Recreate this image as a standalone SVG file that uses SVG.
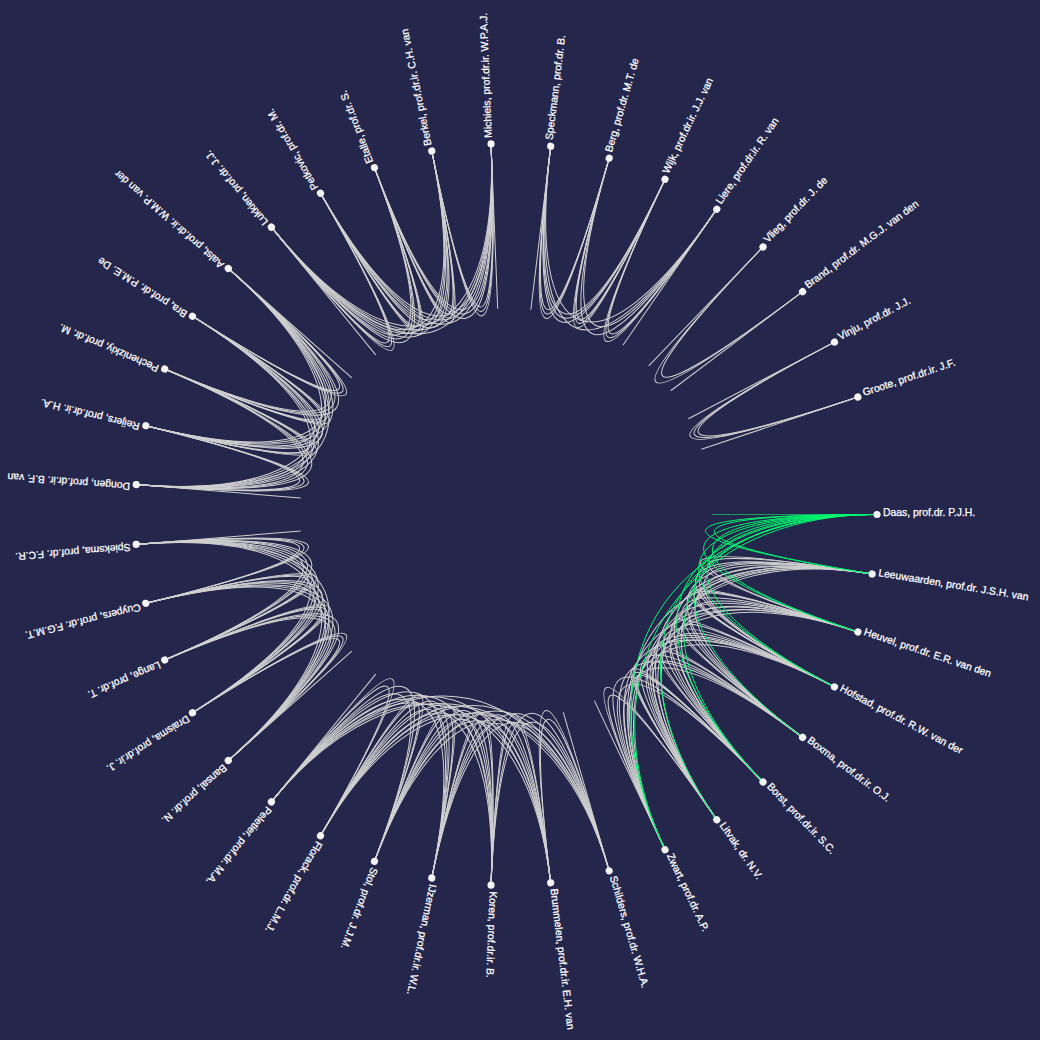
<svg xmlns="http://www.w3.org/2000/svg" xmlns:xlink="http://www.w3.org/1999/xlink" width="1040" height="1040" viewBox="0 0 1040 1040">
<style>
.e{fill:none;stroke:#d0d0d0;stroke-width:1}
.hl{fill:none;stroke:#00f56e;stroke-width:1}
.hr{fill:none;stroke:#1b9c5e;stroke-width:1.2}
.node circle{fill:#f4f4f4}
.node text{fill:#ffffff;stroke:#ffffff;stroke-width:0.25;font-family:"Liberation Sans",Arial,sans-serif;font-size:10.4px}
</style>
<defs>
<path id="rad" d="M371,0H206"/>
<path id="k1a" d="M371,0C144,0 142.14,23.10 366.20,59.51"/>
<path id="k1b" d="M371,0C150,0 148.06,24.06 366.20,59.51"/>
<path id="k1c" d="M371,0C156,0 153.98,25.02 366.20,59.51"/>
<path id="k2a" d="M371,0C147,0 139.44,46.55 351.91,117.48"/>
<path id="k2b" d="M371,0C153,0 145.13,48.45 351.91,117.48"/>
<path id="k2c" d="M371,0C159,0 150.82,50.35 351.91,117.48"/>
<path id="k3a" d="M371,0C150,0 132.82,69.71 328.50,172.41"/>
<path id="k3b" d="M371,0C156,0 138.13,72.50 328.50,172.41"/>
<path id="k3c" d="M371,0C162,0 143.44,75.28 328.50,172.41"/>
<path id="k4a" d="M371,0C153,0 122.31,91.91 296.59,222.87"/>
<path id="k4b" d="M371,0C159,0 127.11,95.52 296.59,222.87"/>
<path id="k4c" d="M371,0C165,0 131.91,99.12 296.59,222.87"/>
<path id="k5a" d="M371,0C156,0 108.07,112.51 257.00,267.57"/>
<path id="k5b" d="M371,0C162,0 112.22,116.83 257.00,267.57"/>
<path id="k5c" d="M371,0C168,0 116.38,121.16 257.00,267.57"/>
<path id="k6a" d="M371,0C159,0 90.32,130.85 210.75,305.33"/>
<path id="k6b" d="M371,0C165,0 93.73,135.79 210.75,305.33"/>
<path id="k6c" d="M371,0C171,0 97.14,140.73 210.75,305.33"/>
<path id="k7a" d="M371,0C162,0 69.45,146.36 159.05,335.18"/>
<path id="k7b" d="M371,0C168,0 72.02,151.78 159.05,335.18"/>
<path id="k7c" d="M371,0C174,0 74.59,157.20 159.05,335.18"/>
</defs>
<rect width="1040" height="1040" fill="#25264b"/>
<g transform="translate(506,514.5)">
<g id="links" class="e">
<use href="#rad" transform="rotate(64.62)"/>
<use href="#rad" transform="rotate(73.85)"/>
<use href="#rad" transform="rotate(129.23)"/>
<use href="#rad" transform="rotate(138.46)"/>
<use href="#rad" transform="rotate(175.38)"/>
<use href="#rad" transform="rotate(184.62)"/>
<use href="#rad" transform="rotate(221.54)"/>
<use href="#rad" transform="rotate(230.77)"/>
<use href="#rad" transform="rotate(267.69)"/>
<use href="#rad" transform="rotate(276.92)"/>
<use href="#rad" transform="rotate(304.62)"/>
<use href="#rad" transform="rotate(313.85)"/>
<use href="#rad" transform="rotate(323.08)"/>
<use href="#rad" transform="rotate(332.31)"/>
<use href="#rad" transform="rotate(341.54)"/>
<g transform="rotate(9.23)"><use href="#k1a"/><use href="#k1c"/><use href="#k2a"/><use href="#k2c"/><use href="#k2b"/><use href="#k3a"/><use href="#k3c"/><use href="#k4a"/><use href="#k4c"/><use href="#k5a"/><use href="#k5c"/><use href="#k6a"/><use href="#k6c"/></g>
<g transform="rotate(18.46)"><use href="#k1a"/><use href="#k1c"/><use href="#k1b"/><use href="#k2a"/><use href="#k2c"/><use href="#k3a"/><use href="#k3c"/><use href="#k4a"/><use href="#k4c"/><use href="#k5a"/><use href="#k5c"/></g>
<g transform="rotate(27.69)"><use href="#k1a"/><use href="#k1c"/><use href="#k2a"/><use href="#k2c"/><use href="#k3a"/><use href="#k3c"/><use href="#k3b"/><use href="#k4a"/><use href="#k4c"/></g>
<g transform="rotate(36.92)"><use href="#k1a"/><use href="#k1c"/><use href="#k2a"/><use href="#k2c"/><use href="#k3a"/><use href="#k3c"/></g>
<g transform="rotate(46.15)"><use href="#k1a"/><use href="#k1c"/><use href="#k1b"/><use href="#k2a"/><use href="#k2c"/></g>
<g transform="rotate(55.38)"><use href="#k1a"/><use href="#k1c"/></g>
<g transform="rotate(73.85)"><use href="#k1a"/><use href="#k1c"/><use href="#k2a"/><use href="#k2c"/><use href="#k3a"/><use href="#k3c"/><use href="#k4a"/><use href="#k4c"/><use href="#k5a"/><use href="#k5c"/><use href="#k6a"/><use href="#k6c"/></g>
<g transform="rotate(83.08)"><use href="#k1a"/><use href="#k1c"/><use href="#k2a"/><use href="#k2c"/><use href="#k3a"/><use href="#k3c"/><use href="#k4a"/><use href="#k4c"/><use href="#k5a"/><use href="#k5c"/></g>
<g transform="rotate(92.31)"><use href="#k1a"/><use href="#k1c"/><use href="#k2a"/><use href="#k2c"/><use href="#k3a"/><use href="#k3c"/><use href="#k4a"/><use href="#k4c"/></g>
<g transform="rotate(101.54)"><use href="#k1a"/><use href="#k1c"/><use href="#k2a"/><use href="#k2c"/><use href="#k3a"/><use href="#k3c"/></g>
<g transform="rotate(110.77)"><use href="#k1a"/><use href="#k1c"/><use href="#k2a"/><use href="#k2c"/></g>
<g transform="rotate(120)"><use href="#k1a"/><use href="#k1c"/></g>
<g transform="rotate(138.46)"><use href="#k1a"/><use href="#k1b"/><use href="#k1c"/><use href="#k2a"/><use href="#k2b"/><use href="#k2c"/><use href="#k3a"/><use href="#k3b"/><use href="#k3c"/><use href="#k4a"/><use href="#k4b"/><use href="#k4c"/></g>
<g transform="rotate(147.69)"><use href="#k1a"/><use href="#k1b"/><use href="#k1c"/><use href="#k2a"/><use href="#k2b"/><use href="#k2c"/><use href="#k3a"/><use href="#k3b"/><use href="#k3c"/></g>
<g transform="rotate(156.92)"><use href="#k1a"/><use href="#k1b"/><use href="#k1c"/><use href="#k2a"/><use href="#k2b"/><use href="#k2c"/></g>
<g transform="rotate(166.15)"><use href="#k1a"/><use href="#k1b"/><use href="#k1c"/></g>
<g transform="rotate(184.62)"><use href="#k1a"/><use href="#k1b"/><use href="#k1c"/><use href="#k2a"/><use href="#k2b"/><use href="#k2c"/><use href="#k3a"/><use href="#k3b"/><use href="#k3c"/><use href="#k4a"/><use href="#k4b"/><use href="#k4c"/></g>
<g transform="rotate(193.85)"><use href="#k1a"/><use href="#k1b"/><use href="#k1c"/><use href="#k2a"/><use href="#k2b"/><use href="#k2c"/><use href="#k3a"/><use href="#k3b"/><use href="#k3c"/></g>
<g transform="rotate(203.08)"><use href="#k1a"/><use href="#k1b"/><use href="#k1c"/><use href="#k2a"/><use href="#k2b"/><use href="#k2c"/></g>
<g transform="rotate(212.31)"><use href="#k1a"/><use href="#k1b"/><use href="#k1c"/></g>
<g transform="rotate(230.77)"><use href="#k1a"/><use href="#k1b"/><use href="#k1c"/><use href="#k2a"/><use href="#k2b"/><use href="#k2c"/><use href="#k3a"/><use href="#k3b"/><use href="#k3c"/><use href="#k4a"/><use href="#k4b"/><use href="#k4c"/></g>
<g transform="rotate(240)"><use href="#k1a"/><use href="#k1b"/><use href="#k1c"/><use href="#k2a"/><use href="#k2b"/><use href="#k2c"/><use href="#k3a"/><use href="#k3b"/><use href="#k3c"/></g>
<g transform="rotate(249.23)"><use href="#k1a"/><use href="#k1b"/><use href="#k1c"/><use href="#k2a"/><use href="#k2b"/><use href="#k2c"/></g>
<g transform="rotate(258.46)"><use href="#k1a"/><use href="#k1b"/><use href="#k1c"/></g>
<g transform="rotate(276.92)"><use href="#k1a"/><use href="#k1b"/><use href="#k1c"/><use href="#k2a"/><use href="#k2b"/><use href="#k2c"/><use href="#k3a"/><use href="#k3c"/></g>
<g transform="rotate(286.15)"><use href="#k1a"/><use href="#k1b"/><use href="#k1c"/><use href="#k2a"/><use href="#k2c"/></g>
<g transform="rotate(295.38)"><use href="#k1a"/><use href="#k1b"/><use href="#k1c"/></g>
<g transform="rotate(313.85)"><use href="#k1a"/><use href="#k1c"/></g>
<g transform="rotate(332.31)"><use href="#k1a"/><use href="#k1b"/><use href="#k1c"/></g>
</g>
<g id="links-highlight">
<use href="#rad" class="hr"/>
<g class="hl"><use href="#k1a"/><use href="#k1c"/><use href="#k2a"/><use href="#k2c"/><use href="#k3a"/><use href="#k3c"/><use href="#k4b"/><use href="#k5a"/><use href="#k5c"/><use href="#k6b"/><use href="#k7a"/><use href="#k7c"/></g>
</g>
<g id="nodes">
<g id="n00" class="node" transform="rotate(0)"><circle cx="371" r="3.6"/><text x="377" dy="0.1em">Daas, prof.dr. P.J.H.</text></g>
<g id="n01" class="node" transform="rotate(9.23)"><circle cx="371" r="3.6"/><text x="377" dy="0.1em">Leeuwaarden, prof.dr. J.S.H. van</text></g>
<g id="n02" class="node" transform="rotate(18.46)"><circle cx="371" r="3.6"/><text x="377" dy="0.1em">Heuvel, prof.dr. E.R. van den</text></g>
<g id="n03" class="node" transform="rotate(27.69)"><circle cx="371" r="3.6"/><text x="377" dy="0.1em">Hofstad, prof.dr. R.W. van der</text></g>
<g id="n04" class="node" transform="rotate(36.92)"><circle cx="371" r="3.6"/><text x="377" dy="0.1em">Boxma, prof.dr.ir. O.J.</text></g>
<g id="n05" class="node" transform="rotate(46.15)"><circle cx="371" r="3.6"/><text x="377" dy="0.1em">Borst, prof.dr.ir. S.C.</text></g>
<g id="n06" class="node" transform="rotate(55.38)"><circle cx="371" r="3.6"/><text x="377" dy="0.1em">Litvak, dr. N.V.</text></g>
<g id="n07" class="node" transform="rotate(64.62)"><circle cx="371" r="3.6"/><text x="377" dy="0.1em">Zwart, prof.dr. A.P.</text></g>
<g id="n08" class="node" transform="rotate(73.85)"><circle cx="371" r="3.6"/><text x="377" dy="0.1em">Schilders, prof.dr. W.H.A.</text></g>
<g id="n09" class="node" transform="rotate(83.08)"><circle cx="371" r="3.6"/><text x="377" dy="0.1em">Brummelen, prof.dr.ir. E.H. van</text></g>
<g id="n10" class="node" transform="rotate(92.31)"><circle cx="371" r="3.6"/><text x="377" dy="0.1em">Koren, prof.dr.ir. B.</text></g>
<g id="n11" class="node" transform="rotate(101.54)"><circle cx="371" r="3.6"/><text x="377" dy="0.1em">IJzerman, prof.dr.ir. W.L.</text></g>
<g id="n12" class="node" transform="rotate(110.77)"><circle cx="371" r="3.6"/><text x="377" dy="0.1em">Stol, prof.dr. J.J.M.</text></g>
<g id="n13" class="node" transform="rotate(120)"><circle cx="371" r="3.6"/><text x="377" dy="0.1em">Florack, prof.dr. L.M.J.</text></g>
<g id="n14" class="node" transform="rotate(129.23)"><circle cx="371" r="3.6"/><text x="377" dy="0.1em">Peletier, prof.dr. M.A.</text></g>
<g id="n15" class="node" transform="rotate(138.46)"><circle cx="371" r="3.6"/><text x="377" dy="0.1em">Bansal, prof.dr. N.</text></g>
<g id="n16" class="node" transform="rotate(147.69)"><circle cx="371" r="3.6"/><text x="377" dy="0.1em">Draisma, prof.dr.ir. J.</text></g>
<g id="n17" class="node" transform="rotate(156.92)"><circle cx="371" r="3.6"/><text x="377" dy="0.1em">Lange, prof.dr. T.</text></g>
<g id="n18" class="node" transform="rotate(166.15)"><circle cx="371" r="3.6"/><text x="377" dy="0.1em">Cuypers, prof.dr. F.G.M.T.</text></g>
<g id="n19" class="node" transform="rotate(175.38)"><circle cx="371" r="3.6"/><text x="377" dy="0.1em">Spieksma, prof.dr. F.C.R.</text></g>
<g id="n20" class="node" transform="rotate(184.62)"><circle cx="371" r="3.6"/><text x="377" dy="0.1em">Dongen, prof.dr.ir. B.F. van</text></g>
<g id="n21" class="node" transform="rotate(193.85)"><circle cx="371" r="3.6"/><text x="377" dy="0.1em">Reijers, prof.dr.ir. H.A.</text></g>
<g id="n22" class="node" transform="rotate(203.08)"><circle cx="371" r="3.6"/><text x="377" dy="0.1em">Pechenizkiy, prof.dr. M.</text></g>
<g id="n23" class="node" transform="rotate(212.31)"><circle cx="371" r="3.6"/><text x="377" dy="0.1em">Bra, prof.dr. P.M.E. De</text></g>
<g id="n24" class="node" transform="rotate(221.54)"><circle cx="371" r="3.6"/><text x="377" dy="0.1em">Aalst, prof.dr.ir. W.M.P. van der</text></g>
<g id="n25" class="node" transform="rotate(230.77)"><circle cx="371" r="3.6"/><text x="377" dy="0.1em">Lukkien, prof.dr. J.J.</text></g>
<g id="n26" class="node" transform="rotate(240)"><circle cx="371" r="3.6"/><text x="377" dy="0.1em">Petkovic, prof.dr. M.</text></g>
<g id="n27" class="node" transform="rotate(249.23)"><circle cx="371" r="3.6"/><text x="377" dy="0.1em">Etalle, prof.dr. S.</text></g>
<g id="n28" class="node" transform="rotate(258.46)"><circle cx="371" r="3.6"/><text x="377" dy="0.1em">Berkel, prof.dr.ir. C.H. van</text></g>
<g id="n29" class="node" transform="rotate(267.69)"><circle cx="371" r="3.6"/><text x="377" dy="0.1em">Michiels, prof.dr.ir. W.P.A.J.</text></g>
<g id="n30" class="node" transform="rotate(276.92)"><circle cx="371" r="3.6"/><text x="377" dy="0.1em">Speckmann, prof.dr. B.</text></g>
<g id="n31" class="node" transform="rotate(286.15)"><circle cx="371" r="3.6"/><text x="377" dy="0.1em">Berg, prof.dr. M.T. de</text></g>
<g id="n32" class="node" transform="rotate(295.38)"><circle cx="371" r="3.6"/><text x="377" dy="0.1em">Wijk, prof.dr.ir. J.J. van</text></g>
<g id="n33" class="node" transform="rotate(304.62)"><circle cx="371" r="3.6"/><text x="377" dy="0.1em">Liere, prof.dr.ir. R. van</text></g>
<g id="n34" class="node" transform="rotate(313.85)"><circle cx="371" r="3.6"/><text x="377" dy="0.1em">Vlieg, prof.dr. J. de</text></g>
<g id="n35" class="node" transform="rotate(323.08)"><circle cx="371" r="3.6"/><text x="377" dy="0.1em">Brand, prof.dr. M.G.J. van den</text></g>
<g id="n36" class="node" transform="rotate(332.31)"><circle cx="371" r="3.6"/><text x="377" dy="0.1em">Vinju, prof.dr. J.J.</text></g>
<g id="n37" class="node" transform="rotate(341.54)"><circle cx="371" r="3.6"/><text x="377" dy="0.1em">Groote, prof.dr.ir. J.F.</text></g>
</g>
</g>
</svg>
